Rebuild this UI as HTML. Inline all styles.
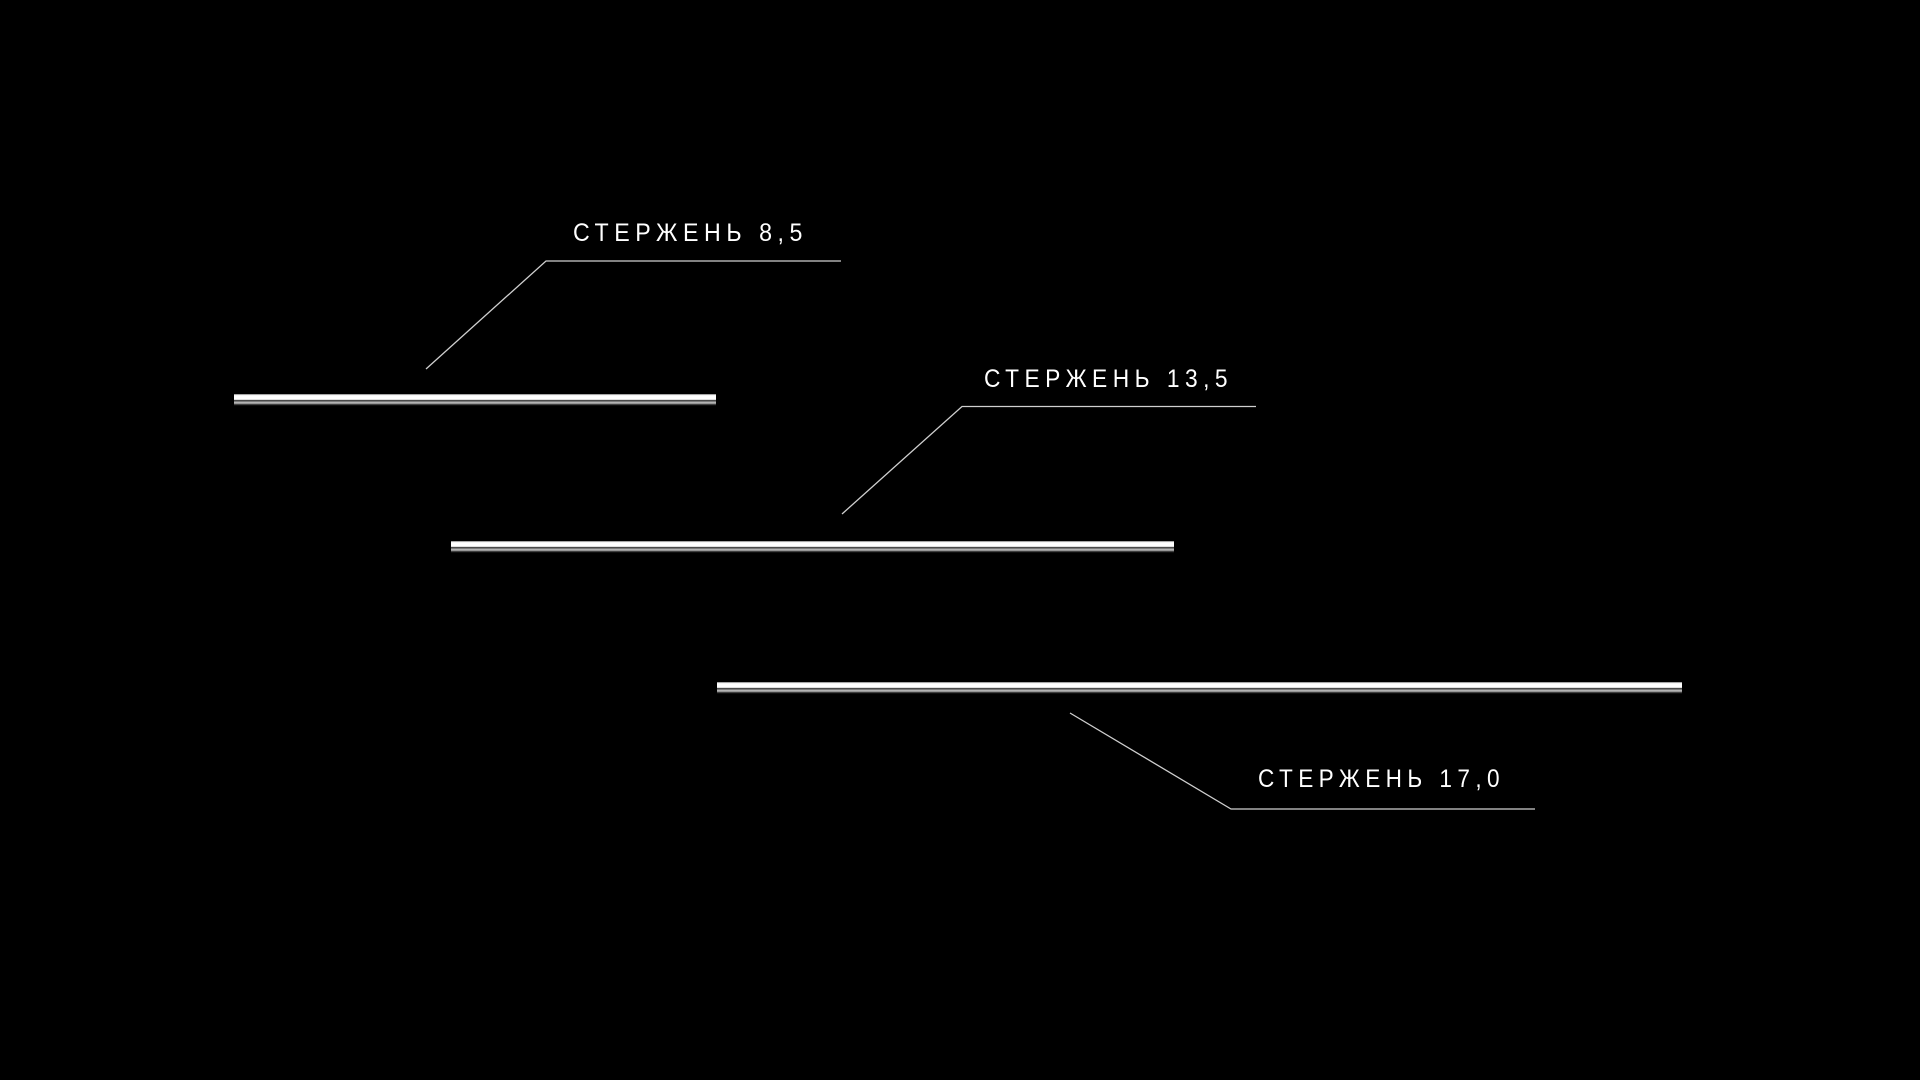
<!DOCTYPE html>
<html><head><meta charset="utf-8"><style>
html,body{margin:0;padding:0;background:#000;width:1920px;height:1080px;overflow:hidden}
</style></head><body>
<svg width="1920" height="1080" viewBox="0 0 1920 1080" xmlns="http://www.w3.org/2000/svg">
<defs>
<linearGradient id="rod" x1="0" y1="0" x2="0" y2="1">
<stop offset="0" stop-color="#777"/>
<stop offset="0.12" stop-color="#fff"/>
<stop offset="0.45" stop-color="#fff"/>
<stop offset="0.55" stop-color="#222"/>
<stop offset="0.68" stop-color="#bbb"/>
<stop offset="0.8" stop-color="#999"/>
<stop offset="0.9" stop-color="#222"/>
<stop offset="1" stop-color="#000"/>
</linearGradient>
</defs>
<rect width="1920" height="1080" fill="#000"/>
<rect x="234" y="394" width="482" height="12" fill="url(#rod)"/>
<rect x="451" y="541" width="723" height="12" fill="url(#rod)"/>
<rect x="717" y="682" width="965" height="12" fill="url(#rod)"/>
<g stroke="#cfcfcf" stroke-width="1.3" fill="none">
<polyline points="426,369 546,261 841,261"/>
<polyline points="842,514 962,406.5 1256,406.5"/>
<polyline points="1070,713 1231,809 1535,809"/>
</g>
<g fill="#fff" font-family="'Liberation Sans', 'DejaVu Sans', sans-serif" font-size="25">
<text x="573" y="241" textLength="235" lengthAdjust="spacingAndGlyphs" letter-spacing="6">СТЕРЖЕНЬ 8,5</text>
<text x="984" y="387" textLength="249" lengthAdjust="spacingAndGlyphs" letter-spacing="6">СТЕРЖЕНЬ 13,5</text>
<text x="1258" y="787" textLength="247" lengthAdjust="spacingAndGlyphs" letter-spacing="6">СТЕРЖЕНЬ 17,0</text>
</g>
</svg>
</body></html>
